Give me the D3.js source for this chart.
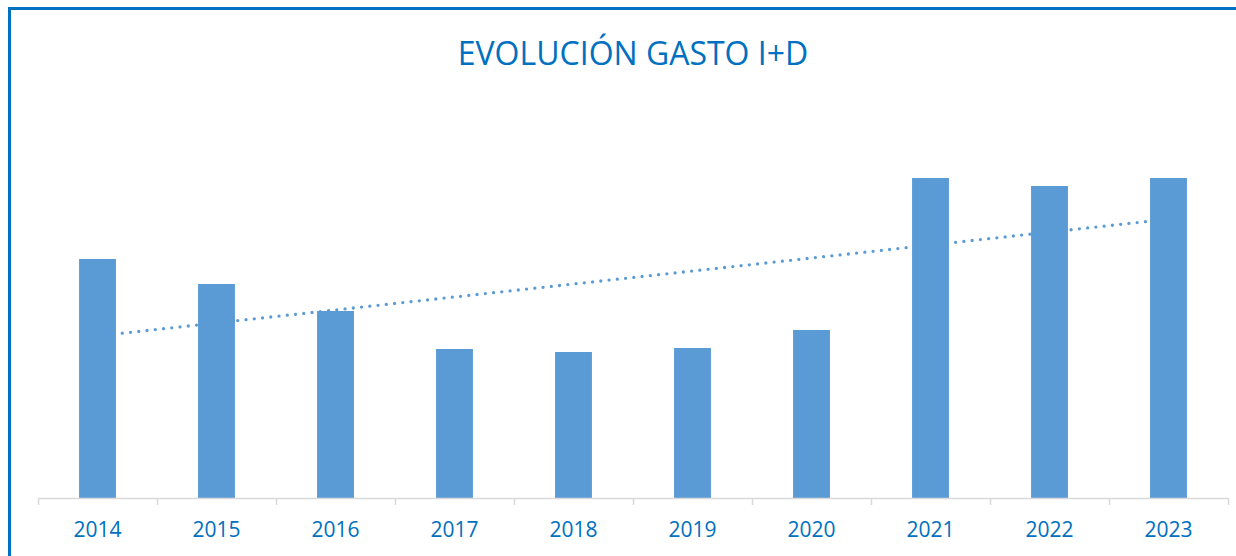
<!DOCTYPE html>
<html>
<head>
<meta charset="utf-8">
<script src="https://cdn.jsdelivr.net/npm/d3@7"></script>
<style>
  html, body { margin: 0; padding: 0; background: #fff; }
  svg { display: block; }
</style>
</head>
<body>
<svg id="chart" width="1236" height="556"></svg>
<script>
// R&D spending per year (relative units)
const years = ["2014", "2015", "2016", "2017", "2018", "2019", "2020", "2021", "2022", "2023"];
const spending = [239, 214, 187, 149, 146, 150, 168, 320, 312, 320];
const title = "EVOLUCIÓN GASTO I+D";

const W = 1236, H = 556;
const blue = "#0070C0";
const barColor = "#5B9BD5";
const baseY = 498;

const svg = d3.select("#chart");

// frame: left and top edges
svg.append("path")
  .attr("d", `M9.5,${H} L9.5,8.5 L${W},8.5`)
  .attr("fill", "none")
  .attr("stroke", blue)
  .attr("stroke-width", 3);

svg.append("text")
  .attr("x", 633)
  .attr("y", 65)
  .attr("text-anchor", "middle")
  .attr("font-family", "'Open Sans', sans-serif")
  .attr("font-size", 32)
  .attr("fill", blue)
  .text(title);

const x = d3.scaleBand()
  .domain(years)
  .range([38, 1228])
  .paddingInner(0.69)
  .paddingOuter(0.345);

const y = d3.scaleLinear()
  .domain([0, 400])
  .range([baseY, baseY - 400]);

// linear trendline (least squares over year index)
const n = spending.length;
const mx = d3.mean(d3.range(n));
const my = d3.mean(spending);
const slope = d3.sum(d3.range(n), i => (i - mx) * (spending[i] - my)) / d3.sum(d3.range(n), i => (i - mx) ** 2);
const icpt = my - slope * mx;
const cx = yr => x(yr) + x.bandwidth() / 2;

svg.append("line")
  .attr("x1", cx(years[0]))
  .attr("y1", y(icpt))
  .attr("x2", cx(years[n - 1]))
  .attr("y2", y(icpt + slope * (n - 1)))
  .attr("stroke", barColor)
  .attr("stroke-width", 3.3)
  .attr("stroke-linecap", "round")
  .attr("stroke-dasharray", "0 8.3");

svg.append("g")
  .selectAll("rect")
  .data(years)
  .join("rect")
  .attr("x", d => x(d))
  .attr("width", x.bandwidth())
  .attr("y", (d, i) => y(spending[i]))
  .attr("height", (d, i) => baseY - y(spending[i]))
  .attr("fill", barColor);

// category axis with ticks between bands
const edges = d3.range(n + 1).map(i => 38 + i * (1190 / n));
const axis = svg.append("g");
axis.append("line")
  .attr("x1", 38).attr("x2", 1228)
  .attr("y1", baseY + 0.5).attr("y2", baseY + 0.5)
  .attr("stroke", "#D9D9D9").attr("stroke-width", 1.5);
axis.selectAll("line.tick")
  .data(edges)
  .join("line")
  .attr("class", "tick")
  .attr("x1", d => Math.round(d) + 0.5).attr("x2", d => Math.round(d) + 0.5)
  .attr("y1", baseY).attr("y2", baseY + 7)
  .attr("stroke", "#D9D9D9").attr("stroke-width", 1.5);
axis.selectAll("text")
  .data(years)
  .join("text")
  .attr("x", d => cx(d))
  .attr("y", 537)
  .attr("text-anchor", "middle")
  .attr("font-family", "'Open Sans', sans-serif")
  .attr("font-size", 21)
  .attr("fill", blue)
  .text(d => d);
</script>
</body>
</html>
